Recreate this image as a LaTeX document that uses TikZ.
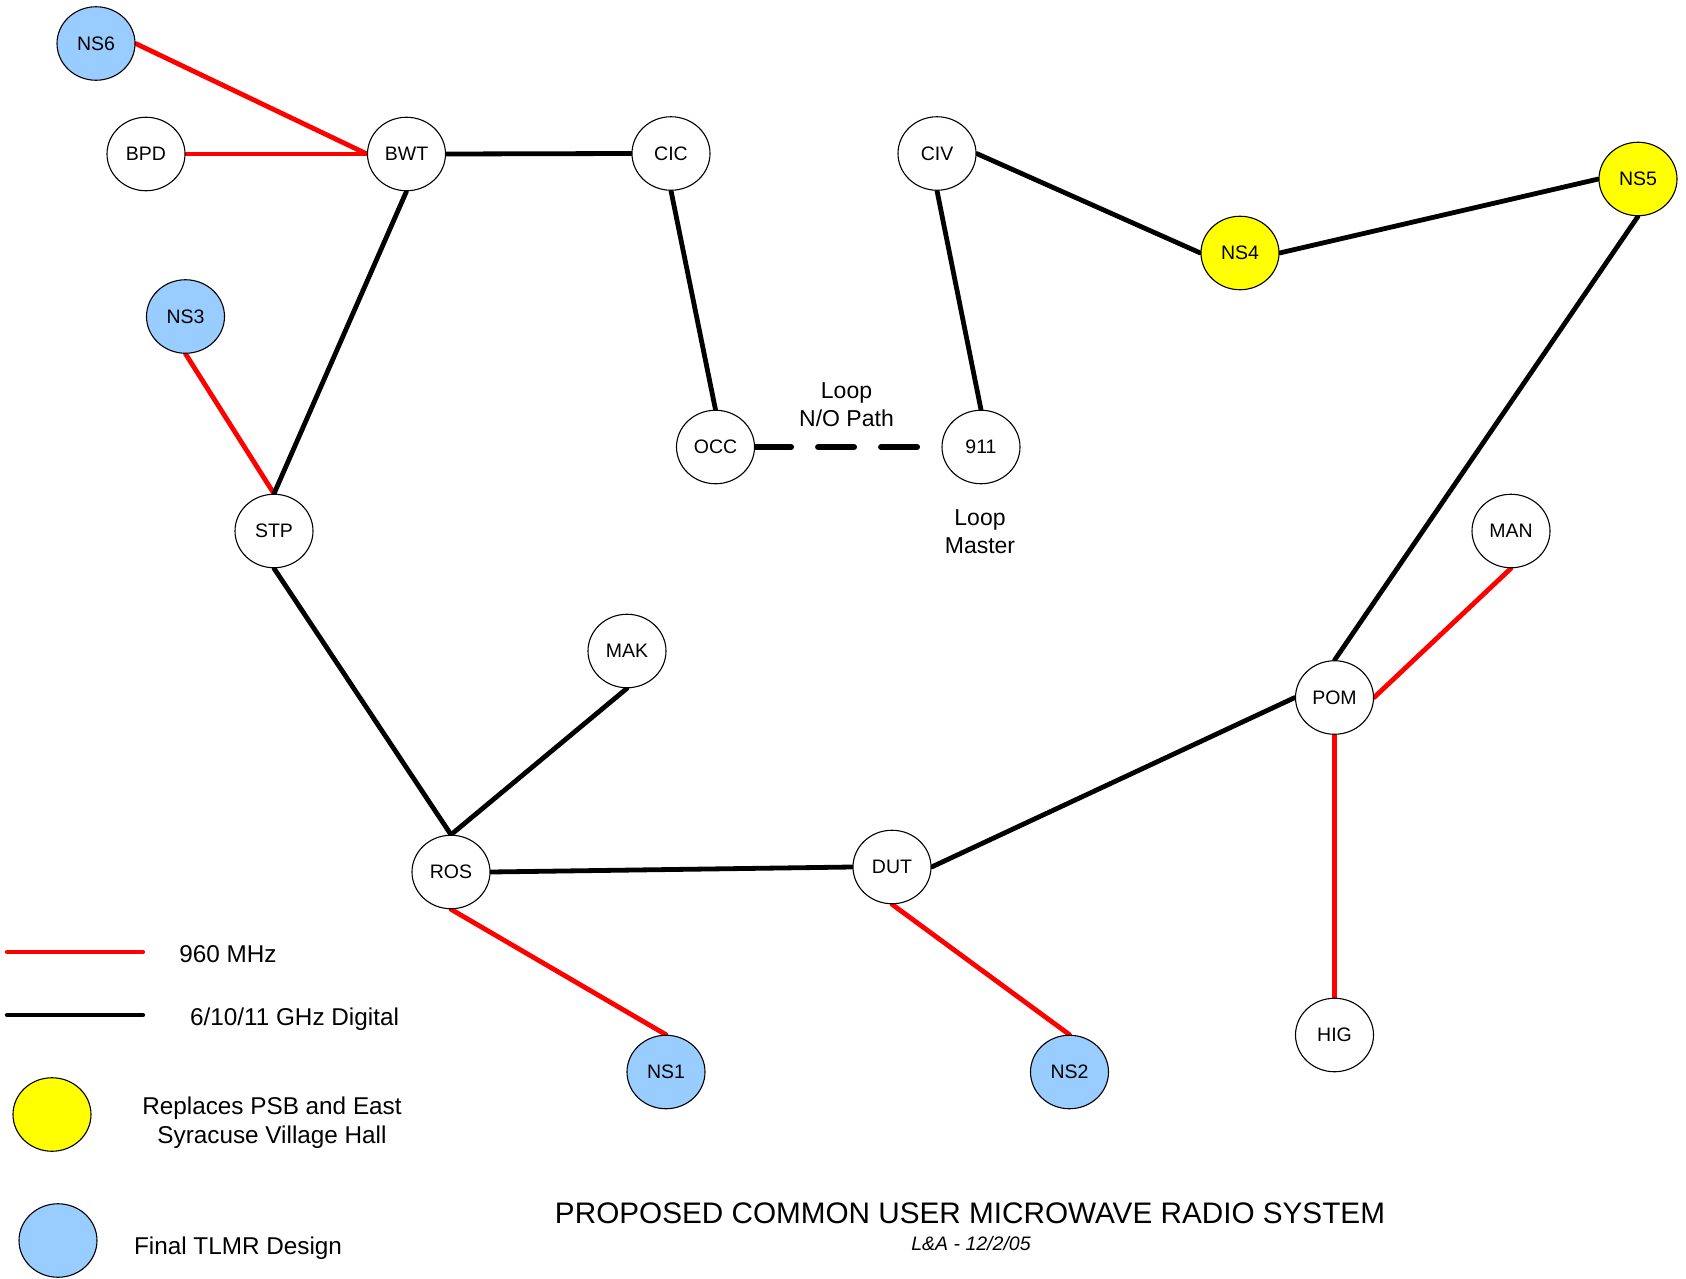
\documentclass[tikz,border=0pt]{standalone}
\usepackage{fontspec}
\setmainfont{Liberation Sans}
\usetikzlibrary{shapes.geometric,backgrounds}
\definecolor{tlmrblue}{HTML}{99CCFF}
\definecolor{psbyellow}{HTML}{FFFF00}
\definecolor{mhzred}{HTML}{FF0000}
\begin{document}
\begin{tikzpicture}[x=1pt,y=-1pt,
  site/.style={ellipse,draw=black,line width=1.1pt,fill=white,
    minimum width=78pt,minimum height=73.5pt,inner sep=0pt,
    font=\fontsize{19.5}{23}\selectfont},
  nssite/.style={site,fill=tlmrblue},
  ylsite/.style={site,fill=psbyellow},
  mhzlink/.style={draw=mhzred,line width=4.8pt,line cap=round},
  diglink/.style={draw=black,line width=4.8pt,line cap=round},
  looplink/.style={draw=black,line width=6pt,line cap=round,dash pattern=on 36pt off 27pt},
  lbl/.style={inner sep=0pt,font=\fontsize{23}{27.5}\selectfont,align=center},
  legtxt/.style={inner sep=0pt,font=\fontsize{24.3}{29}\selectfont,align=center}
]
\useasboundingbox (0,0) rectangle (1686,1279);

% sites
\node[nssite] (NS6) at (96,43.5) {NS6};
\node[site] (BPD) at (146,154) {BPD};
\node[site] (BWT) at (406.5,154) {BWT};
\node[site] (CIC) at (671,153.5) {CIC};
\node[site] (CIV) at (937,153.5) {CIV};
\node[ylsite] (NS4) at (1240,253) {NS4};
\node[ylsite] (NS5) at (1638,179) {NS5};
\node[nssite] (NS3) at (185.5,316.5) {NS3};
\node[site] (STP) at (274,531) {STP};
\node[site] (OCC) at (715.5,447) {OCC};
\node[site] (n911) at (981,447) {911};
\node[site] (MAK) at (627,651) {MAK};
\node[site] (MAN) at (1511,531) {MAN};
\node[site] (POM) at (1334.5,697.5) {POM};
\node[site] (ROS) at (451,872) {ROS};
\node[site] (DUT) at (892,867) {DUT};
\node[nssite] (NS1) at (666,1072) {NS1};
\node[nssite] (NS2) at (1069.5,1072) {NS2};
\node[site] (HIG) at (1334.5,1035) {HIG};

\begin{scope}[on background layer]
  % 960 MHz links
  \draw[mhzlink] (NS6.east) -- (BWT.west);
  \draw[mhzlink] (BPD.east) -- (BWT.west);
  \draw[mhzlink] (NS3.south) -- (STP.north);
  \draw[mhzlink] (ROS.south) -- (NS1.north);
  \draw[mhzlink] (DUT.south) -- (NS2.north);
  \draw[mhzlink] (POM.east) -- (MAN.south);
  \draw[mhzlink] (POM.south) -- (HIG.north);
  % digital links
  \draw[diglink] (BWT.east) -- (CIC.west);
  \draw[diglink] (BWT.south) -- (STP.north);
  \draw[diglink] (STP.south) -- (ROS.north);
  \draw[diglink] (MAK.south) -- (ROS.north);
  \draw[diglink] (ROS.east) -- (DUT.west);
  \draw[diglink] (DUT.east) -- (POM.west);
  \draw[diglink] (POM.north) -- (NS5.south);
  \draw[diglink] (CIC.south) -- (OCC.north);
  \draw[diglink] (CIV.south) -- (n911.north);
  \draw[diglink] (CIV.east) -- (NS4.west);
  \draw[diglink] (NS4.east) -- (NS5.west);
  % loop normally-open path
  \draw[looplink] (OCC.east) -- (n911.west);
\end{scope}

% labels
\node[lbl] (loopno) at (846.5,404.5) {Loop\\N/O Path};
\node[lbl] (loopmaster) at (980,531.5) {Loop\\Master};

% legend
\draw[mhzlink,line width=4.3pt] (7,952) -- (143,952);
\draw[diglink,line width=4.3pt] (7,1015) -- (143,1015);
\node[legtxt,anchor=base] (legmhz) at (228,962.7) {960 MHz};
\node[legtxt,anchor=base] (legdig) at (294.5,1025) {6/10/11 GHz Digital};
\node[ylsite] (legpsb) at (52,1114.5) {};
\node[legtxt] (legpsbtxt) at (272,1123) {Replaces PSB and East\\Syracuse Village Hall};
\node[nssite] (legtlmr) at (58,1240.5) {};
\node[legtxt,anchor=base] (legtlmrtxt) at (238,1254) {Final TLMR Design};

% title
\node[inner sep=0pt,anchor=base,font=\fontsize{29.7}{34}\selectfont] (title) at (970,1223)
  {PROPOSED COMMON USER MICROWAVE RADIO SYSTEM};
\node[inner sep=0pt,anchor=base,font=\fontsize{19.5}{23}\selectfont\itshape] (subtitle) at (971,1250)
  {L\&A - 12/2/05};
\end{tikzpicture}
\end{document}
